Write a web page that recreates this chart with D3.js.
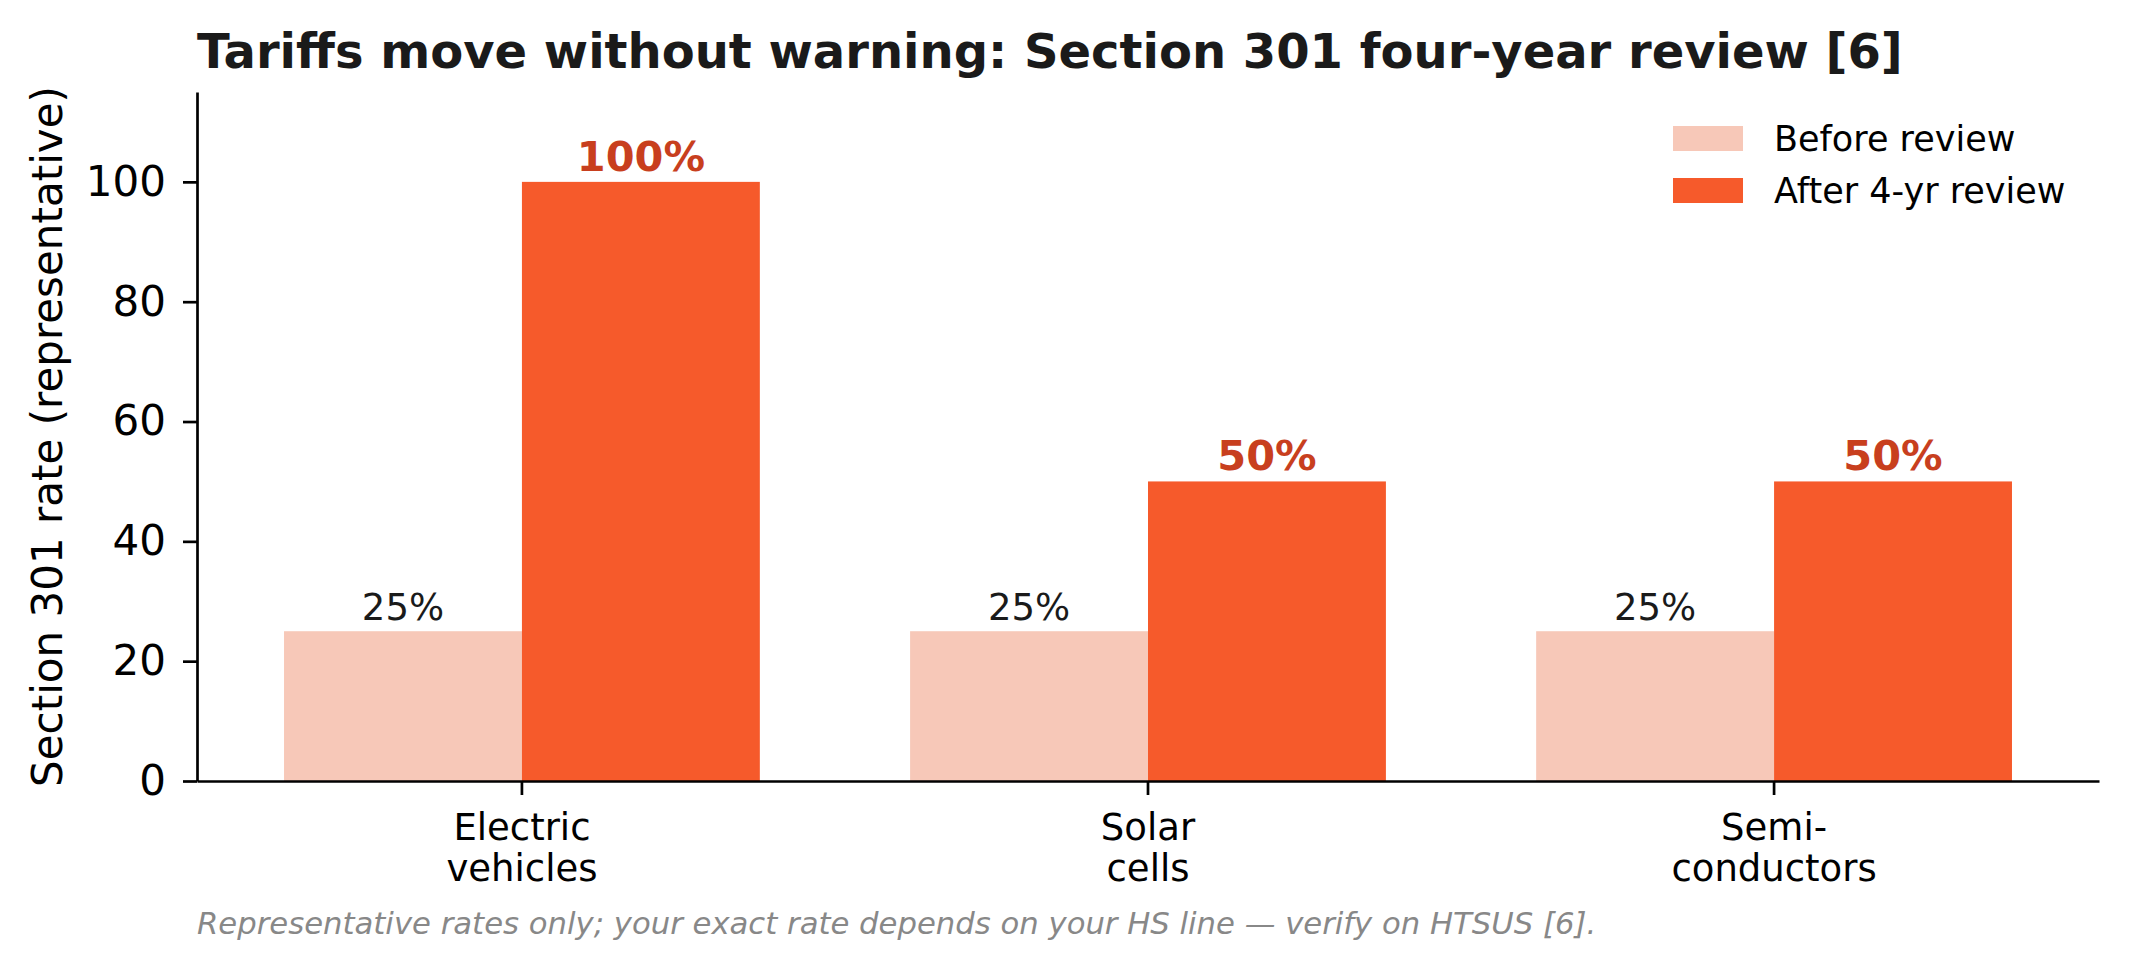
<!DOCTYPE html>
<html>
<head>
<meta charset="utf-8">
<script src="https://cdn.jsdelivr.net/npm/d3@7"></script>
<style>
  html, body { margin: 0; padding: 0; background: #fff; }
  svg { display: block; font-family: "DejaVu Sans", sans-serif; }
</style>
</head>
<body>
<svg id="chart" width="2130" height="970"></svg>
<script>
// chart data
const categories = ['Electric\nvehicles', 'Solar\ncells', 'Semi-\nconductors'];
const seriesNames = ['Before review', 'After 4-yr review'];
const beforeRates = [25, 25, 25];
const afterRates = [100, 50, 50];
const yTicks = [0, 20, 40, 60, 80, 100];

const titleText = 'Tariffs move without warning: Section 301 four-year review [6]';
const yLabel = 'Section 301 rate (representative)';
const noteText = 'Representative rates only; your exact rate depends on your HS line \u2014 verify on HTSUS [6].';

const palette = { before: '#f7c8b8', after: '#f65a2b', afterLabel: '#c83f1e' };

const svg = d3.select('#chart');
const plot = { left: 197, right: 2099, top: 92, bottom: 781 };

// scales
const x0 = d3.scaleBand()
  .domain(categories)
  .range([plot.left, plot.right])
  .paddingInner(0.24)
  .paddingOuter(0.139);
const x1 = d3.scaleBand().domain(seriesNames).range([0, x0.bandwidth()]).padding(0);
const y = d3.scaleLinear().domain([0, 115]).range([plot.bottom, plot.top]);

const rows = categories.map((c, i) => ({
  cat: c,
  vals: [
    { key: seriesNames[0], v: beforeRates[i] },
    { key: seriesNames[1], v: afterRates[i] },
  ],
}));

// bars
const groups = svg.append('g').selectAll('g').data(rows).join('g')
  .attr('transform', d => `translate(${x0(d.cat)},0)`);

groups.selectAll('rect').data(d => d.vals).join('rect')
  .attr('x', d => x1(d.key))
  .attr('width', x1.bandwidth())
  .attr('y', d => y(d.v))
  .attr('height', d => y(0) - y(d.v))
  .attr('fill', (d, i) => i === 0 ? palette.before : palette.after);

// value labels
groups.selectAll('text.val').data(d => d.vals).join('text')
  .attr('class', 'val')
  .attr('x', d => x1(d.key) + x1.bandwidth() / 2)
  .attr('y', d => y(d.v) - 11)
  .attr('text-anchor', 'middle')
  .attr('font-size', (d, i) => i === 0 ? 37 : 41.5)
  .attr('font-weight', (d, i) => i === 0 ? 'normal' : 'bold')
  .attr('fill', (d, i) => i === 0 ? '#1a1a1a' : palette.afterLabel)
  .text(d => d.v + '%');

// axes
const yAxis = svg.append('g')
  .attr('transform', `translate(${plot.left},0)`)
  .call(d3.axisLeft(y).tickValues(yTicks).tickSize(14).tickSizeOuter(0).tickPadding(17));
yAxis.selectAll('text').attr('font-size', 42).attr('fill', '#000').attr('font-family', '"DejaVu Sans", sans-serif');

const xAxis = svg.append('g')
  .attr('transform', `translate(0,${plot.bottom})`)
  .call(d3.axisBottom(x0).tickSize(14).tickSizeOuter(0).tickPadding(12)
    .tickFormat(() => ''));
// ticks sit between the two bars of a group
xAxis.selectAll('.tick').attr('transform', d => `translate(${x0(d) + x1.bandwidth()},0)`);
xAxis.selectAll('.tick text').each(function (d) {
  const t = d3.select(this)
    .attr('font-size', 37).attr('fill', '#000')
    .attr('font-family', '"DejaVu Sans", sans-serif')
    .attr('dy', null).attr('y', 0);
  d.split('\n').forEach((line, i) => {
    t.append('tspan').attr('x', 0).attr('y', 59 + i * 41).text(line);
  });
});

[yAxis, xAxis].forEach(a => {
  a.select('.domain').attr('stroke', '#000').attr('stroke-width', 2.7);
  a.selectAll('.tick line').attr('stroke', '#000').attr('stroke-width', 2.7);
});

// y label
svg.append('text')
  .attr('transform', `translate(62,${(plot.top + plot.bottom) / 2}) rotate(-90)`)
  .attr('text-anchor', 'middle')
  .attr('font-size', 42)
  .attr('fill', '#000')
  .text(yLabel);

// title
svg.append('text')
  .attr('x', plot.left)
  .attr('y', 68)
  .attr('font-size', 48)
  .attr('font-weight', 'bold')
  .attr('fill', '#1a1a1a')
  .text(titleText);

// legend
const legend = svg.append('g').attr('transform', 'translate(1673,126)');
const legendRows = legend.selectAll('g').data(seriesNames).join('g')
  .attr('transform', (d, i) => `translate(0,${i * 52})`);
legendRows.append('rect')
  .attr('width', 70).attr('height', 25)
  .attr('fill', (d, i) => i === 0 ? palette.before : palette.after);
legendRows.append('text')
  .attr('x', 101).attr('y', 25)
  .attr('font-size', 35)
  .attr('fill', '#000')
  .text(d => d);

// footnote
svg.append('text')
  .attr('x', plot.left)
  .attr('y', 934)
  .attr('font-size', 30.7)
  .attr('font-style', 'italic')
  .attr('fill', '#888')
  .text(noteText);
</script>
</body>
</html>
